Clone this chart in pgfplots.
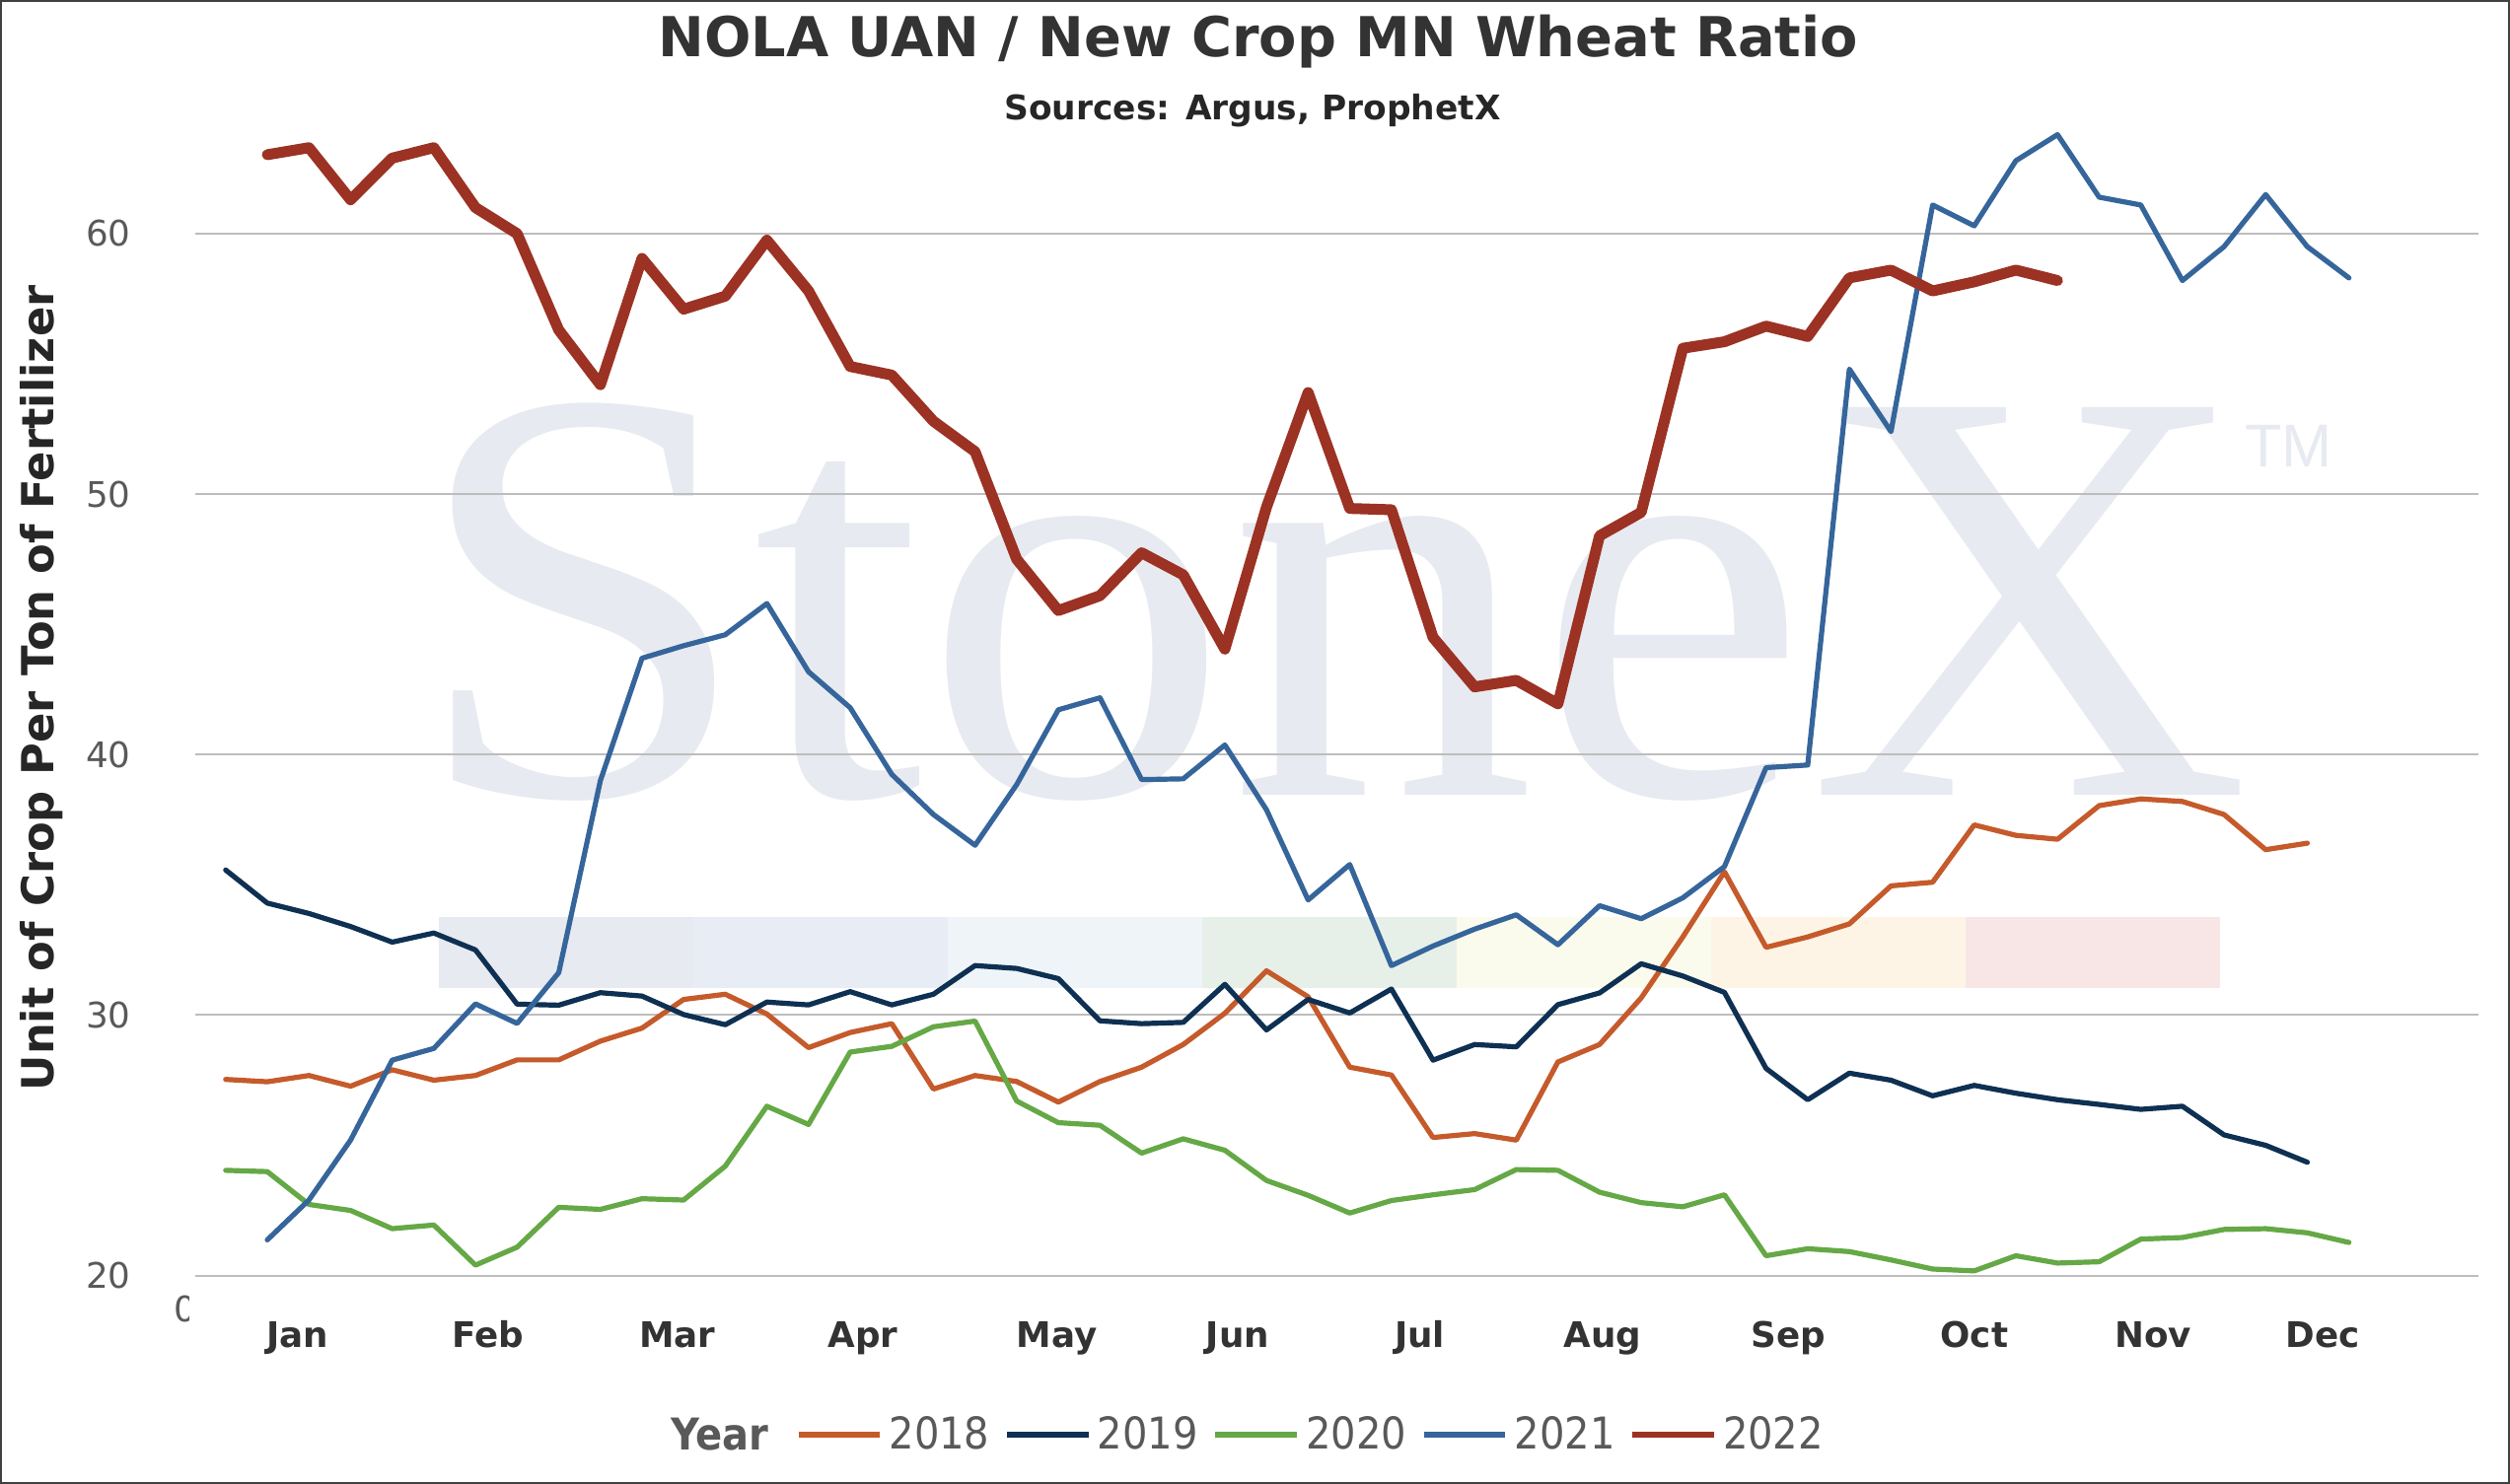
\documentclass[border=0pt]{standalone}
\usepackage{fontspec}
\setmainfont{DejaVu Sans}
\newfontfamily\condfont{DejaVu Sans Condensed}
\newfontfamily\wmserif{Liberation Serif}
\newfontfamily\wmsans{Liberation Sans}
\usepackage{pgfplots}
\pgfplotsset{compat=1.18}
\definecolor{c18}{HTML}{C55A2B}
\definecolor{c19}{HTML}{0E3052}
\definecolor{c20}{HTML}{65A846}
\definecolor{c21}{HTML}{35659B}
\definecolor{c22}{HTML}{9C3223}
\definecolor{gridc}{HTML}{BDBDBD}
\definecolor{tickc}{HTML}{595959}
\definecolor{monthc}{HTML}{333333}
\definecolor{titlec}{HTML}{333333}
\definecolor{darkc}{HTML}{262626}
\definecolor{wm}{HTML}{E7EAF0}
\definecolor{b1}{HTML}{E7EAF0}
\definecolor{b2}{HTML}{E8EDF5}
\definecolor{b3}{HTML}{EFF4F9}
\definecolor{b4}{HTML}{E6F0E9}
\definecolor{b5}{HTML}{FAFBED}
\definecolor{b6}{HTML}{FDF4E6}
\definecolor{b7}{HTML}{F8E6E7}
\definecolor{framec}{HTML}{404040}
\begin{document}
\begin{tikzpicture}
\begin{scope}[shift={(-61pt,398.5pt)}, x=0.5pt, y=-0.5pt]
  \fill[b1] (274,573) rectangle (433,617.5);
  \fill[b2] (433,573) rectangle (592,617.5);
  \fill[b3] (592,573) rectangle (751,617.5);
  \fill[b4] (751,573) rectangle (910,617.5);
  \fill[b5] (910,573) rectangle (1069,617.5);
  \fill[b6] (1069,573) rectangle (1228,617.5);
  \fill[b7] (1228,573) rectangle (1387,617.5);
  \node[anchor=base west, inner sep=0pt, xscale=1.035, text=wm, font=\wmserif\fontsize{185}{185}\selectfont] at (257,497) {StoneX};
  \node[anchor=base west, inner sep=0pt, text=wm, font=\wmsans\fontsize{18.9}{19}\selectfont] at (1402,292) {TM};
  \node[anchor=base, inner sep=0pt, text=titlec, font=\bfseries\fontsize{17.2}{20}\selectfont] at (786,35.2) {NOLA UAN / New Crop MN Wheat Ratio};
  \node[anchor=base, inner sep=0pt, text=darkc, font=\bfseries\fontsize{10.6}{12}\selectfont] at (782.5,74.7) {Sources: Argus, ProphetX};
  \node[anchor=base, rotate=90, inner sep=0pt, text=darkc, font=\bfseries\fontsize{13.8}{16}\selectfont] at (33.5,430) {Unit of Crop Per Ton of Fertilizer};
  \node[anchor=base west, inner sep=0pt, text=tickc, font=\condfont\bfseries\fontsize{13.7}{15}\selectfont] at (419,906) {Year};
  \begin{scope}
    \clip (100,800) rectangle (118,835);
    \node[anchor=west, inner sep=0pt, text=tickc, font=\fontsize{11}{13}\selectfont] at (108.5,818) {0};
  \end{scope}
\end{scope}
\begin{axis}[
  at={(0,0)}, anchor=south west, scale only axis,
  width=713pt, height=366.2pt,
  xmin=0.27, xmax=55.1, ymin=20, ymax=65,
  axis line style={draw=none}, major tick length=0pt, tick style={draw=none},
  ytick={20,30,40,50,60}, yticklabels={20,30,40,50,60},
  ymajorgrids, grid style={line width=0.6pt, color=gridc},
  xtick={2.73,7.3,11.85,16.31,20.96,25.31,29.68,34.08,38.54,43.0,47.3,51.37},
  xticklabels={Jan,Feb,Mar,Apr,May,Jun,Jul,Aug,Sep,Oct,Nov,Dec},
  yticklabel style={anchor=east, inner sep=0pt, xshift=-20pt, font=\fontsize{11}{13}\selectfont, text=tickc},
  xticklabel style={anchor=base, inner sep=0pt, yshift=-22.3pt, font=\bfseries\fontsize{11}{13}\selectfont, text=monthc},
  legend style={at={(axis description cs:0.26297,-0.13585)}, anchor=west, draw=none, fill=none, inner sep=0pt, outer sep=0pt,
    font=\condfont\fontsize{13.7}{15}\selectfont, text=tickc, nodes={inner sep=0pt},
    /tikz/every odd column/.append style={column sep=2pt},
    /tikz/every even column/.append style={column sep=4.5pt}},
  legend columns=-1,
  legend image code/.code={\draw[#1, line width=1.75pt, line cap=butt] (0pt,0pt) -- (25.5pt,0pt);},
  every axis plot/.append style={line join=round, line cap=round},
]
\addplot[c18, line width=1.6pt] coordinates {
(1,27.53)(2,27.44)(3,27.68)(4,27.27)(5,27.9)(6,27.5)(7,27.68)(8,28.28)(9,28.28)(10,29.0)
(11,29.5)(12,30.6)(13,30.8)(14,30.04)(15,28.75)(16,29.33)(17,29.67)(18,27.16)(19,27.68)(20,27.45)
(21,26.66)(22,27.45)(23,28.0)(24,28.87)(25,30.07)(26,31.7)(27,30.7)(28,28.0)(29,27.7)(30,25.3)
(31,25.45)(32,25.2)(33,28.2)(34,28.87)(35,30.66)(36,33.0)(37,35.5)(38,32.6)(39,33.0)(40,33.5)
(41,34.96)(42,35.1)(43,37.3)(44,36.9)(45,36.75)(46,38.04)(47,38.3)(48,38.2)(49,37.7)(50,36.35)
(51,36.6)};
\addlegendentry{2018}
\addplot[c19, line width=1.6pt] coordinates {
(1,35.57)(2,34.3)(3,33.9)(4,33.4)(5,32.8)(6,33.15)(7,32.5)(8,30.42)(9,30.38)(10,30.86)
(11,30.73)(12,30.02)(13,29.63)(14,30.5)(15,30.39)(16,30.9)(17,30.39)(18,30.8)(19,31.9)(20,31.79)
(21,31.4)(22,29.78)(23,29.67)(24,29.72)(25,31.18)(26,29.43)(27,30.6)(28,30.08)(29,31.0)(30,28.27)
(31,28.87)(32,28.78)(33,30.4)(34,30.85)(35,31.97)(36,31.5)(37,30.87)(38,27.95)(39,26.75)(40,27.77)
(41,27.5)(42,26.9)(43,27.3)(44,27.0)(45,26.75)(46,26.57)(47,26.38)(48,26.5)(49,25.4)(50,25.0)
(51,24.35)};
\addlegendentry{2019}
\addplot[c20, line width=1.6pt] coordinates {
(1,24.04)(2,23.99)(3,22.73)(4,22.5)(5,21.8)(6,21.94)(7,20.4)(8,21.09)(9,22.62)(10,22.54)
(11,22.95)(12,22.9)(13,24.2)(14,26.5)(15,25.8)(16,28.58)(17,28.8)(18,29.55)(19,29.77)(20,26.7)
(21,25.87)(22,25.77)(23,24.7)(24,25.25)(25,24.81)(26,23.65)(27,23.08)(28,22.4)(29,22.88)(30,23.1)
(31,23.3)(32,24.07)(33,24.04)(34,23.2)(35,22.8)(36,22.64)(37,23.1)(38,20.76)(39,21.03)(40,20.92)
(41,20.6)(42,20.25)(43,20.18)(44,20.76)(45,20.48)(46,20.53)(47,21.4)(48,21.46)(49,21.77)(50,21.8)
(51,21.64)(52,21.27)};
\addlegendentry{2020}
\addplot[c21, line width=1.6pt] coordinates {
(2,21.37)(3,22.9)(4,25.2)(5,28.27)(6,28.72)(7,30.43)(8,29.68)(9,31.63)(10,39.0)
(11,43.7)(12,44.18)(13,44.6)(14,45.8)(15,43.18)(16,41.8)(17,39.24)(18,37.7)(19,36.52)(20,38.85)
(21,41.72)(22,42.18)(23,39.04)(24,39.07)(25,40.37)(26,37.88)(27,34.42)(28,35.78)(29,31.9)(30,32.65)
(31,33.3)(32,33.85)(33,32.7)(34,34.2)(35,33.7)(36,34.5)(37,35.7)(38,39.5)(39,39.6)(40,54.8)
(41,52.4)(42,61.1)(43,60.3)(44,62.8)(45,63.8)(46,61.4)(47,61.1)(48,58.2)(49,59.5)(50,61.5)
(51,59.5)(52,58.3)};
\addlegendentry{2021}
\addplot[c22, line width=3.4pt] coordinates {
(2,63.03)(3,63.3)(4,61.3)(5,62.9)(6,63.3)(7,61.0)(8,60.0)(9,56.3)(10,54.2)
(11,59.05)(12,57.1)(13,57.6)(14,59.75)(15,57.8)(16,54.9)(17,54.57)(18,52.8)(19,51.63)(20,47.5)
(21,45.53)(22,46.1)(23,47.75)(24,46.9)(25,44.05)(26,49.5)(27,53.9)(28,49.45)(29,49.4)(30,44.5)
(31,42.6)(32,42.85)(33,41.95)(34,48.4)(35,49.3)(36,55.6)(37,55.85)(38,56.45)(39,56.05)(40,58.3)
(41,58.6)(42,57.8)(43,58.15)(44,58.6)(45,58.2)};
\addlegendentry{2022}
\end{axis}
\draw[line width=0.5pt, framec] (-60.75pt,-64.75pt) rectangle (722.75pt,398.25pt);
\pgfresetboundingbox
\useasboundingbox (-61pt,-65pt) rectangle (723pt,398.5pt);
\end{tikzpicture}
\end{document}
